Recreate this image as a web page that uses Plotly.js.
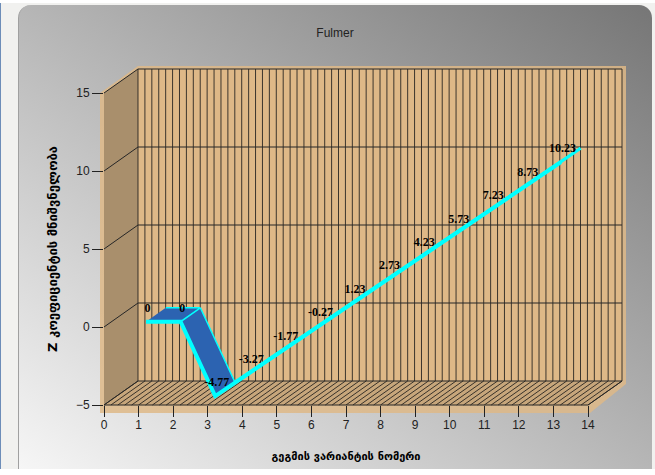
<!DOCTYPE html>
<html>
<head>
<meta charset="utf-8">
<script src="https://cdn.plot.ly/plotly-3.0.1.min.js"></script>
<style>
html,body{margin:0;padding:0;width:655px;height:475px;background:#fff;overflow:hidden}
#page{position:absolute;left:0;top:3px;width:655px;height:466px;background:#f1f1ef;border-left:1px solid #6d8db8;box-sizing:border-box}
#panel{position:absolute;left:18px;top:5px;width:634px;height:464px;border-radius:13px 13px 0 0;background:linear-gradient(to top right,#f6f6f6 0%,#767676 100%);border-left:1px solid #a0a0a0;box-sizing:border-box}
#chart{position:absolute;left:0;top:0;width:655px;height:475px}
</style>
</head>
<body>
<div id="page"></div>
<div id="panel"></div>
<div id="chart"></div>
<script>
// Chart values
const variantNumbers = [1,2,3,4,5,6,7,8,9,10,11,12,13];
const zValues = [0,0,-4.77,-3.27,-1.77,-0.27,1.23,2.73,4.23,5.73,7.23,8.73,10.23];
const pointLabels = ["0","0","-4.77","-3.27","-1.77","-0.27","1.23","2.73","4.23","5.73","7.23","8.73","10.23"];
const xTicks = [0,1,2,3,4,5,6,7,8,9,10,11,12,13,14];
const yTicks = [-5,0,5,10,15];

// Text
const chartTitle = "Fulmer";
const xTitle = "გეგმის ვარიანტის ნომერი";
const yTitle = "Z კოეფიციენტის მნიშვნელობა";

// Page and front-plane geometry (pixels)
const W = 655, H = 475;
const frontLeft = 104, frontRight = 588, frontTop = 93, frontBottom = 405;
const xMin = 0, xMax = 14, yMin = -5, yMax = 15;
const pxPerX = (frontRight-frontLeft)/(xMax-xMin), pxPerY = (frontBottom-frontTop)/(yMax-yMin);

// Pseudo-3D geometry, in axis units
const depthX = 34/pxPerX, depthY = 24/pxPerY;
const ribbonFront = 0.22, ribbonBack = 0.8;
const labelDepth = 0.26, labelRise = 1.15;
const gridStep = 0.2;
const bandX = 4/pxPerX, bandY = 8/pxPerY, bandTop = 3/pxPerY;

const gridDark = "rgba(25,25,25,0.82)", cyan = "#00FFFF", blue = "#2C63B1", tan = "#DEB887";

function poly(xs, ys, fill, lineColor, lineWidth){
  return {x:xs, y:ys, type:"scatter", mode:lineWidth?"lines":"none", fill:"toself", fillcolor:fill,
    line:{color:lineColor||fill, width:lineWidth||0}, hoverinfo:"skip", showlegend:false};
}
function seg(xs, ys, color, width){
  return {x:xs, y:ys, type:"scatter", mode:"lines", connectgaps:false, line:{color:color, width:width},
    hoverinfo:"skip", showlegend:false};
}

const traces = [];
// translucent outer band
traces.push(poly(
  [xMin-bandX, xMin+depthX, xMax+depthX+bandX, xMax+depthX+bandX, xMax+bandX*0.5, xMin-bandX],
  [yMax, yMax+depthY+bandTop, yMax+depthY+bandTop, yMin+depthY-bandTop, yMin-bandY, yMin-bandY],
  "rgba(222,184,135,0.85)"));
// back wall
traces.push(poly([xMin+depthX,xMax+depthX,xMax+depthX,xMin+depthX],[yMin+depthY,yMin+depthY,yMax+depthY,yMax+depthY],tan));
// left wall
traces.push(poly([xMin,xMin+depthX,xMin+depthX,xMin],[yMin,yMin+depthY,yMax+depthY,yMax],"#A98F6C"));
// floor
traces.push(poly([xMin,xMax,xMax+depthX,xMin+depthX],[yMin,yMin,yMin+depthY,yMin+depthY],"#C7A67B"));

// grid
const vx=[],vy=[],fx=[],fy=[];
const nSteps = Math.round((xMax-xMin)/gridStep);
for(let i=0;i<=nSteps;i++){
  const gx = xMin+i*gridStep;
  vx.push(gx+depthX,gx+depthX,null); vy.push(yMin+depthY,yMax+depthY,null);
  fx.push(gx,gx+depthX,null); fy.push(yMin,yMin+depthY,null);
}
traces.push(seg(vx,vy,gridDark,1));
traces.push(seg(fx,fy,gridDark,1));
const hx=[],hy=[];
yTicks.forEach(t=>{
  hx.push(xMin,xMin+depthX,xMax+depthX,null); hy.push(t,t+depthY,t+depthY,null);
});
traces.push(seg(hx,hy,"#262626",1));
traces.push(seg([xMin,xMax,xMax+depthX],[yMin,yMin,yMin+depthY],"#262626",1));

// data ribbon
const fX = variantNumbers.map(v=>v+depthX*ribbonFront), fY = zValues.map(v=>v+depthY*ribbonFront);
const bX = variantNumbers.map(v=>v+depthX*ribbonBack),  bY = zValues.map(v=>v+depthY*ribbonBack);
for(let i=variantNumbers.length-2;i>=0;i--){
  const rising = zValues[i+1]>zValues[i];
  traces.push(poly([fX[i],fX[i+1],bX[i+1],bX[i]],[fY[i],fY[i+1],bY[i+1],bY[i]],rising?cyan:blue,cyan,rising?3:1.5));
}
traces.push(seg(fX,fY,cyan,4));

// value labels, on the front-plane axes
traces.push({x:variantNumbers.map(v=>v+labelDepth), y:zValues.map(v=>v+labelRise), text:pointLabels,
  xaxis:"x2", yaxis:"y2", type:"scatter", mode:"text", textposition:"middle center", cliponaxis:false,
  hoverinfo:"skip", showlegend:false,
  textfont:{family:"Liberation Serif, serif", size:12, color:"#000", weight:700}});

const tickFont = {family:"Liberation Sans, sans-serif", size:12, color:"#222"};
const hidden = {showgrid:false, zeroline:false, showline:false, showticklabels:false, ticks:""};
const layout = {
  width:W, height:H, autosize:false,
  margin:{l:0,r:0,t:0,b:0,pad:0},
  paper_bgcolor:"rgba(0,0,0,0)", plot_bgcolor:"rgba(0,0,0,0)", showlegend:false,
  title:{text:chartTitle, x:335/W, xanchor:"center", xref:"paper", y:1-33/H, yanchor:"middle", yref:"container",
    font:{family:"Liberation Sans, sans-serif", size:12, color:"#222"}},
  // Full-page scene axes sharing the scale of the front plane
  xaxis:Object.assign({range:[(0-frontLeft)/pxPerX, (W-frontLeft)/pxPerX], domain:[0,1], anchor:"y"}, hidden),
  yaxis:Object.assign({range:[yMin-(H-frontBottom)/pxPerY, yMin+frontBottom/pxPerY], domain:[0,1], anchor:"x"}, hidden),
  // Visible axes on the front plane
  xaxis2:{range:[xMin,xMax], domain:[frontLeft/W, frontRight/W], anchor:"y2", tickmode:"array", tickvals:xTicks,
    ticks:"outside", ticklen:11, tickwidth:1, tickcolor:"#222", showgrid:false, zeroline:false, showline:false, tickfont:tickFont,
    ticklabelstandoff:-2,
    title:{text:xTitle, font:{family:"DejaVu Sans", size:11, color:"#000", weight:700}, standoff:20}},
  yaxis2:{range:[yMin,yMax], domain:[1-frontBottom/H, 1-frontTop/H], anchor:"x2", tickmode:"array", tickvals:yTicks,
    ticks:"outside", ticklen:11, tickwidth:1, tickcolor:"#222", showgrid:false, zeroline:false, showline:false, tickfont:tickFont,
    title:{text:yTitle, font:{family:"DejaVu Sans", size:13, color:"#000", weight:700}, standoff:15}}
};
Plotly.newPlot("chart", traces, layout, {displayModeBar:false, staticPlot:true});
</script>
</body>
</html>
